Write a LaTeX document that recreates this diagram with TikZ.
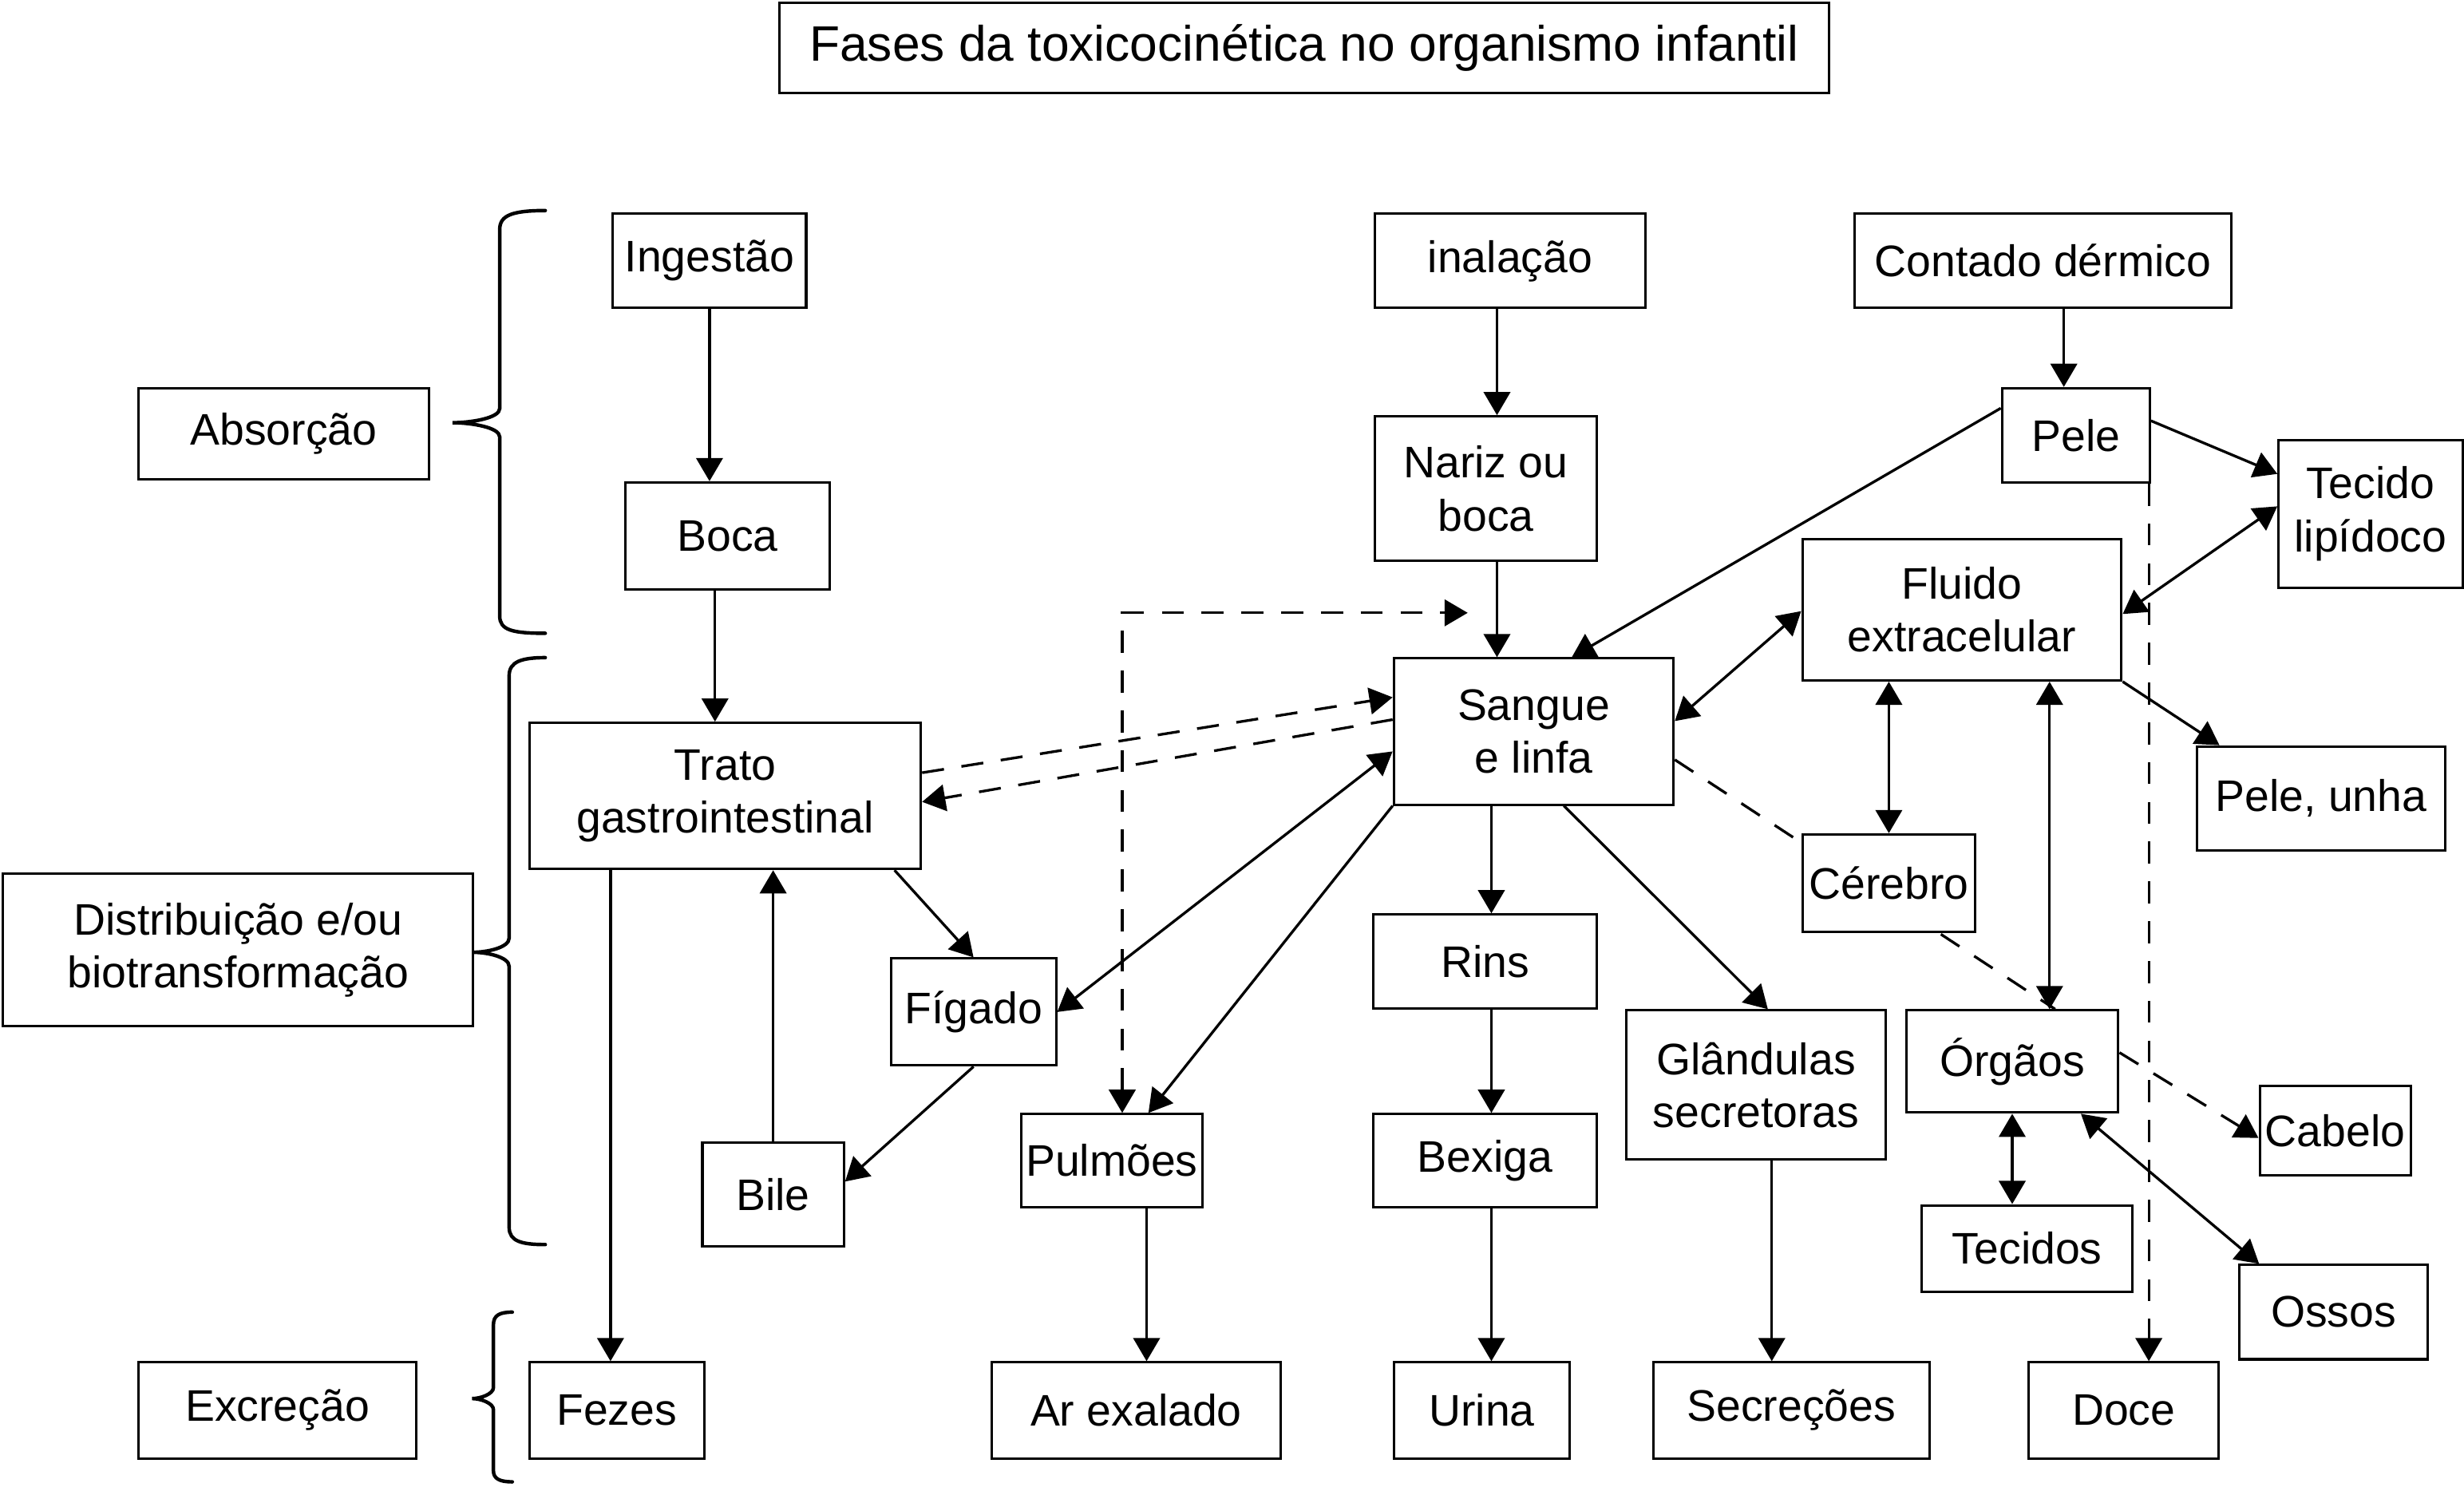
\documentclass[tikz,border=0pt]{standalone}
\usepackage{fontspec}
\setmainfont{Liberation Sans}
\usetikzlibrary{arrows.meta,calc}

\begin{document}
\begin{tikzpicture}[x=0.025cm, y=-0.025cm,
    >={Triangle[length=10.5pt,width=12pt]},
    box/.style={draw, line width=1.1pt, fill=white, inner sep=0pt, align=center,
        font=\fontsize{20}{24}\selectfont},
    flow/.style={line width=1.2pt},
    hint/.style={line width=1.2pt, dash pattern=on 10pt off 8pt},
    curly/.style={line width=1.6pt, line cap=round}]

    \useasboundingbox (0,0) rectangle (1568,946);

    %% Title
    \node[box, minimum width=16.7cm, minimum height=1.425cm, font=\fontsize{22.5}{27}\selectfont] (title) at (830,30.5) {Fases da toxicocinética no organismo infantil};

    %% Phases
    \node[box, minimum width=4.625cm, minimum height=1.45cm] (absorcao) at (180.5,276) {Absorção};
    \node[box, minimum width=7.475cm, minimum height=2.425cm] (distrib) at (151.5,604.5) {Distribuição e/ou\\biotransformação};
    \node[box, minimum width=4.425cm, minimum height=1.525cm] (excrecao) at (176.5,897.5) {Excreção};

    % Braces
    \draw[curly] (347,134) .. controls (326,134) and (318,137) .. (318,146) -- (318,260)
        .. controls (318,266) and (300,269) .. (288,269) .. controls (300,269) and (318,272) .. (318,278)
        -- (318,392) .. controls (318,401) and (326,403) .. (347,403);
    \draw[curly] (347,418.5) .. controls (332,418.5) and (324,421) .. (324,430) -- (324,597)
        .. controls (324,603) and (310,606) .. (301,606) .. controls (310,606) and (324,609) .. (324,615)
        -- (324,781) .. controls (324,790) and (332,792) .. (347,792);
    \draw[curly] (326,835) .. controls (318,835) and (314,837) .. (314,843) -- (314,883)
        .. controls (314,887) and (306,890) .. (300.5,890) .. controls (306,890) and (314,893) .. (314,897)
        -- (314,936) .. controls (314,941) and (318,943) .. (326,943);

    %% Entry routes
    \node[box, minimum width=3.075cm, minimum height=1.5cm] (ingestao) at (451.5,166) {Ingestão};
    \node[box, minimum width=4.3cm, minimum height=1.5cm] (inalacao) at (961,166) {inalação};
    \node[box, minimum width=6cm, minimum height=1.5cm] (contato) at (1300,166) {Contado dérmico};
    \node[box, minimum width=3.25cm, minimum height=1.7cm] (boca) at (463,341) {Boca};
    \node[box, minimum width=3.525cm, minimum height=2.3cm] (nariz) at (945.5,311) {Nariz ou\\boca};
    \node[box, minimum width=2.35cm, minimum height=1.5cm] (pele) at (1321,277) {Pele};

    %% Distribution
    \node[box, minimum width=2.925cm, minimum height=2.35cm] (lipido) at (1508.5,327) {Tecido\\lipídoco};
    \node[box, minimum width=5.075cm, minimum height=2.25cm] (fluido) at (1248.5,388) {Fluido\\extracelular};
    \node[box, minimum width=4.45cm, minimum height=2.325cm] (sangue) at (976,465.5) {Sangue\\e linfa};
    \node[box, minimum width=6.225cm, minimum height=2.325cm] (trato) at (461.5,506.5) {Trato\\gastrointestinal};
    \node[box, minimum width=3.95cm, minimum height=1.65cm] (unha) at (1477,508) {Pele, unha};
    \node[box, minimum width=2.625cm, minimum height=1.7cm] (figado) at (619.5,644) {Fígado};
    \node[box, minimum width=3.55cm, minimum height=1.5cm] (rins) at (945,612) {Rins};
    \node[box, minimum width=4.125cm, minimum height=2.375cm] (glandulas) at (1117.5,690.5) {Glândulas\\secretoras};
    \node[box, minimum width=3.375cm, minimum height=1.625cm] (orgaos) at (1280.5,675.5) {Órgãos};
    \node[box, minimum width=2.4cm, minimum height=1.425cm] (cabelo) at (1486,719.5) {Cabelo};
    \node[box, minimum width=2.875cm, minimum height=1.475cm] (pulmoes) at (707.5,738.5) {Pulmões};
    \node[box, minimum width=3.55cm, minimum height=1.475cm] (bexiga) at (945,738.5) {Bexiga};
    \node[box, minimum width=2.25cm, minimum height=1.65cm] (bile) at (492,760) {Bile};
    \node[box, minimum width=3.35cm, minimum height=1.375cm] (tecidos) at (1290,794.5) {Tecidos};
    \node[box, minimum width=3cm, minimum height=1.5cm] (ossos) at (1485,835) {Ossos};

    %% Excretion
    \node[box, minimum width=2.775cm, minimum height=1.525cm] (fezes) at (392.5,897.5) {Fezes};
    \node[box, minimum width=4.6cm, minimum height=1.525cm] (arexalado) at (723,897.5) {Ar exalado};
    \node[box, minimum width=2.8cm, minimum height=1.525cm] (urina) at (943,897.5) {Urina};
    \node[box, minimum width=4.4cm, minimum height=1.525cm] (secrecoes) at (1140,897.5) {Secreções};
    \node[box, minimum width=3.025cm, minimum height=1.525cm] (doce) at (1351.5,897.5) {Doce};

    %% Connectors

    % Ingestion
    \draw[flow,->] (ingestao.south) -- (ingestao.south |- boca.north);
    \draw[flow,->] ([xshift=-0.2cm]boca.south) -- ([xshift=-0.2cm]boca.south |- trato.north);

    % Inhalation
    \coordinate (nx) at ($(nariz.north west)!0.55!(nariz.north east)$);
    \draw[flow,->] (nx |- inalacao.south) -- (nx);
    \draw[flow,->] (nx |- nariz.south) -- (nx |- sangue.north);

    % Skin
    \coordinate (px) at ($(pele.north west)!0.42!(pele.north east)$);
    \draw[flow,->] (px |- contato.south) -- (px);
    \draw[flow,->] ($(pele.north west)!0.22!(pele.south west)$) -- ($(sangue.north west)!0.635!(sangue.north east)$);
    \draw[flow,->] ($(pele.north east)!0.35!(pele.south east)$) -- ($(lipido.north west)!0.234!(lipido.south west)$);
    \coordinate (dx) at ($(doce.north west)!0.63!(doce.north east)$);
    \draw[hint,->] (dx |- pele.south) -- (dx);

    % Extracellular fluid
    \draw[flow,<->] ($(fluido.north east)!0.53!(fluido.south east)$) -- ($(lipido.north west)!0.45!(lipido.south west)$);
    \draw[flow,->] (fluido.south east) -- ($(unha.north west)!0.095!(unha.north east)$);
    \draw[flow,<->] ($(sangue.north east)!0.43!(sangue.south east)$) -- ($(fluido.north west)!0.51!(fluido.south west)$);
    \coordinate (ox) at ($(orgaos.north west)!0.674!(orgaos.north east)$);
    \draw[flow,<->] (ox) -- (ox |- fluido.south);

    % Blood and gut
    \draw[hint,->] ($(trato.north east)!0.344!(trato.south east)$) -- ($(sangue.north west)!0.27!(sangue.south west)$);
    \draw[hint,->] ($(sangue.north west)!0.42!(sangue.south west)$) -- ($(trato.north east)!0.54!(trato.south east)$);
    \coordinate (inflow) at (934,390);
    \draw[hint,<->] ($(pulmoes.north west)!0.557!(pulmoes.north east)$) |- (inflow);

    % Blood outflow
    \draw[flow,<->] ($(sangue.north west)!0.634!(sangue.south west)$) -- (figado.east);
    \draw[flow,->] (sangue.south west) -- ($(pulmoes.north west)!0.70!(pulmoes.north east)$);
    \coordinate (rx) at ($(sangue.south west)!0.35!(sangue.south east)$);
    \draw[flow,->] (rx) -- (rx |- rins.north);
    \draw[flow,->] (rx |- rins.south) -- (rx |- bexiga.north);
    \draw[flow,->] (rx |- bexiga.south) -- (rx |- urina.north);
    \draw[flow,->] ($(sangue.south west)!0.607!(sangue.south east)$) -- ($(glandulas.north west)!0.545!(glandulas.north east)$);
    \coordinate (gx) at ($(glandulas.south west)!0.56!(glandulas.south east)$);
    \draw[flow,->] (gx) -- (gx |- secrecoes.north);
    \coordinate (ax) at ($(pulmoes.south west)!0.69!(pulmoes.south east)$);
    \draw[flow,->] (ax) -- (ax |- arexalado.north);

    % Brain, over the dashed line
    \draw[hint] ($(sangue.north east)!0.69!(sangue.south east)$) -- ($(orgaos.north west)!0.70!(orgaos.north east)$);
    \node[box, minimum width=2.75cm, minimum height=1.55cm] (cerebro) at (1202,562) {Cérebro};
    \draw[flow,<->] (cerebro.north) -- (cerebro.north |- fluido.south);

    % Organs
    \draw[hint,->] ($(orgaos.north east)!0.415!(orgaos.south east)$) -- ($(cabelo.north west)!0.58!(cabelo.south west)$);
    \draw[flow,<->] (orgaos.south) -- (orgaos.south |- tecidos.north);
    \draw[flow,<->] ($(orgaos.south west)!0.82!(orgaos.south east)$) -- ($(ossos.north west)!0.11!(ossos.north east)$);

    % Liver and bile
    \draw[flow,->] ($(trato.south west)!0.93!(trato.south east)$) -- (figado.north);
    \draw[flow,->] (figado.south) -- ($(bile.north east)!0.38!(bile.south east)$);
    \draw[flow,->] (bile.north) -- (bile.north |- trato.south);
    \draw[flow,->] ([xshift=-0.1cm]fezes.north |- trato.south) -- ([xshift=-0.1cm]fezes.north);

\end{tikzpicture}
\end{document}
